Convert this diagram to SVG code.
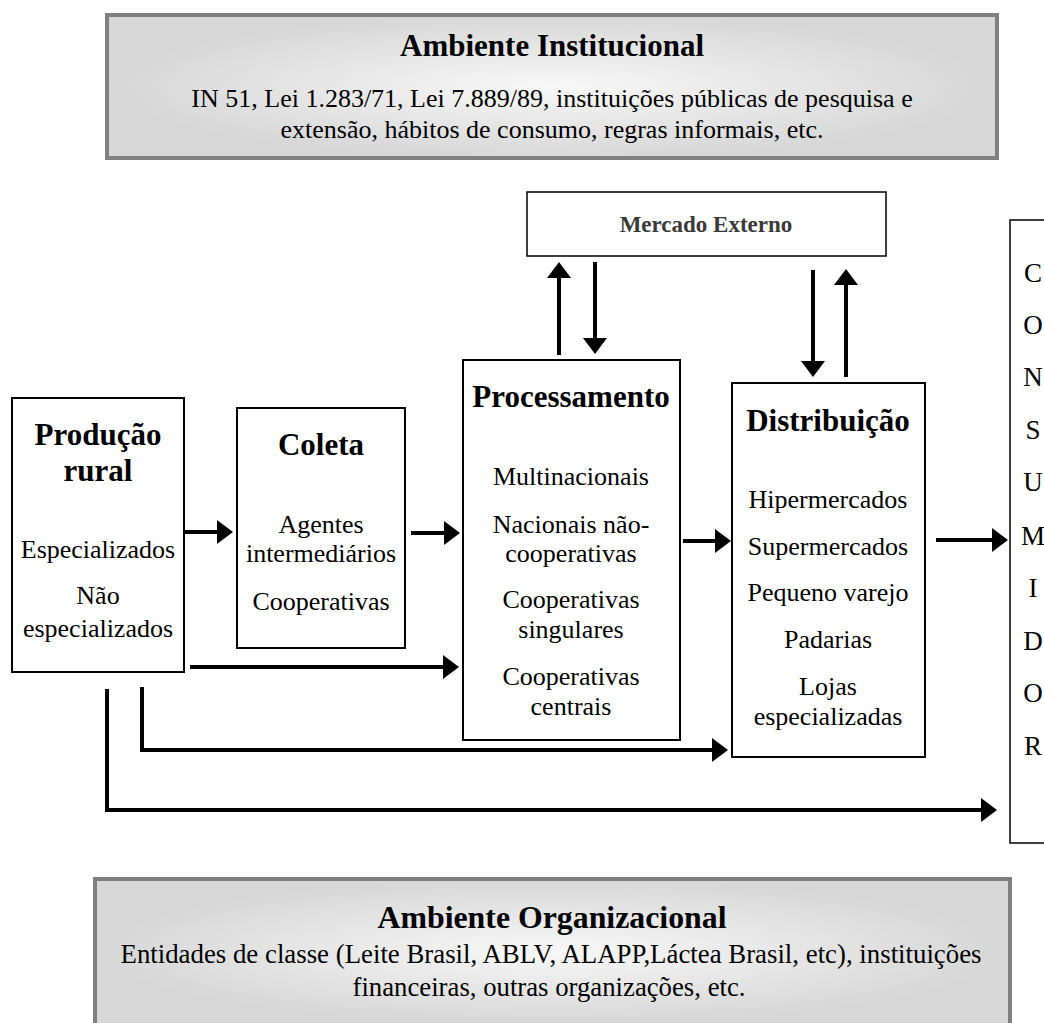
<svg xmlns="http://www.w3.org/2000/svg" width="1044" height="1023" viewBox="0 0 1044 1023">
<defs>
<radialGradient id="envGrad" cx="50%" cy="50%" r="50%">
<stop offset="0" stop-color="#f8f8f8"/>
<stop offset="1" stop-color="#d7d7d7"/>
</radialGradient>
<marker id="ah" markerUnits="userSpaceOnUse" markerWidth="16" markerHeight="24" viewBox="0 0 16 24" refX="12" refY="12" orient="auto">
<path d="M0,0 L16,12 L0,24 z" fill="#000"/>
</marker>
<style>
text { font-family: "Liberation Serif", "Times New Roman", serif; fill: #000; }
.env { fill: url(#envGrad); stroke: #808080; stroke-width: 4; }
.envfill { fill: url(#envGrad); stroke: none; }
.envedge { fill: none; stroke: #808080; stroke-width: 4; }
.box { fill: #fff; stroke: #000; stroke-width: 2; }
.thin { fill: #fff; stroke: #000; stroke-width: 1.5; }
.title { font-weight: bold; font-size: 31px; text-anchor: middle; }
.body { font-size: 26px; text-anchor: middle; }
.envtitle { font-weight: bold; font-size: 31px; text-anchor: middle; }
.envbody { font-size: 26px; text-anchor: middle; }
.conn { fill: none; stroke: #000; stroke-width: 4; marker-end: url(#ah); }
</style>
</defs>

<g id="ambiente-institucional">
<rect class="env" x="107" y="15" width="890" height="143"/>
<text class="envtitle" x="552" y="56">Ambiente Institucional</text>
<text class="envbody" x="552" y="107">IN 51, Lei 1.283/71, Lei 7.889/89, instituições públicas de pesquisa e</text>
<text class="envbody" x="552" y="138">extensão, hábitos de consumo, regras informais, etc.</text>
</g>

<g id="mercado-externo">
<rect class="thin" x="527" y="192" width="359" height="64"/>
<text x="706" y="232" font-size="23" font-weight="bold" text-anchor="middle" style="fill:#3a3a3a">Mercado Externo</text>
</g>

<g id="producao-rural">
<rect class="box" x="12" y="398" width="172" height="274"/>
<text class="title" x="98" y="445">Produção</text>
<text class="title" x="98" y="481">rural</text>
<text class="body" x="98" y="558">Especializados</text>
<text class="body" x="98" y="604">Não</text>
<text class="body" x="98" y="637">especializados</text>
</g>

<g id="coleta">
<rect class="box" x="237" y="408" width="168" height="240"/>
<text class="title" x="321" y="455">Coleta</text>
<text class="body" x="321" y="533">Agentes</text>
<text class="body" x="321" y="562">intermediários</text>
<text class="body" x="321" y="610">Cooperativas</text>
</g>

<g id="processamento">
<rect class="box" x="463" y="360" width="217" height="380"/>
<text class="title" x="571" y="407">Processamento</text>
<text class="body" x="571" y="485">Multinacionais</text>
<text class="body" x="571" y="533">Nacionais não-</text>
<text class="body" x="571" y="562">cooperativas</text>
<text class="body" x="571" y="608">Cooperativas</text>
<text class="body" x="571" y="638">singulares</text>
<text class="body" x="571" y="685">Cooperativas</text>
<text class="body" x="571" y="715">centrais</text>
</g>

<g id="distribuicao">
<rect class="box" x="732" y="383" width="193" height="374"/>
<text class="title" x="828" y="431">Distribuição</text>
<text class="body" x="828" y="508">Hipermercados</text>
<text class="body" x="828" y="555">Supermercados</text>
<text class="body" x="828" y="601">Pequeno varejo</text>
<text class="body" x="828" y="648">Padarias</text>
<text class="body" x="828" y="695">Lojas</text>
<text class="body" x="828" y="725">especializadas</text>
</g>

<g id="consumidor">
<rect class="thin" x="1010" y="220" width="50" height="623"/>
<g font-size="27" text-anchor="middle">
<text x="1033" y="282">C</text>
<text x="1033" y="334">O</text>
<text x="1033" y="386">N</text>
<text x="1033" y="439">S</text>
<text x="1033" y="491">U</text>
<text x="1033" y="545">M</text>
<text x="1033" y="597">I</text>
<text x="1033" y="650">D</text>
<text x="1033" y="702">O</text>
<text x="1033" y="755">R</text>
</g>
</g>

<g id="ambiente-organizacional">
<rect class="envfill" x="95" y="879" width="915" height="144"/>
<path class="envedge" d="M95,1023 V879 H1010 V1023"/>
<text x="552" y="928" font-size="32" font-weight="bold" text-anchor="middle" textLength="349" lengthAdjust="spacingAndGlyphs">Ambiente Organizacional</text>
<text x="551" y="963" font-size="27" text-anchor="middle" textLength="861" lengthAdjust="spacingAndGlyphs">Entidades de classe (Leite Brasil, ABLV, ALAPP,Láctea Brasil, etc), instituições</text>
<text x="549" y="996" font-size="27" text-anchor="middle" textLength="393" lengthAdjust="spacingAndGlyphs">financeiras, outras organizações, etc.</text>
</g>

<g id="connectors">
<path class="conn" d="M185,532 H229"/>
<path class="conn" d="M411,533 H456"/>
<path class="conn" d="M683,541 H727"/>
<path class="conn" d="M936,540 H1004"/>
<path class="conn" d="M190,667 H455"/>
<path class="conn" d="M142,687 V750 H724"/>
<path class="conn" d="M107,689 V810 H993"/>
<path class="conn" d="M559,355 V266"/>
<path class="conn" d="M595,262 V350"/>
<path class="conn" d="M813,270 V373"/>
<path class="conn" d="M846,377 V273"/>
</g>
</svg>
